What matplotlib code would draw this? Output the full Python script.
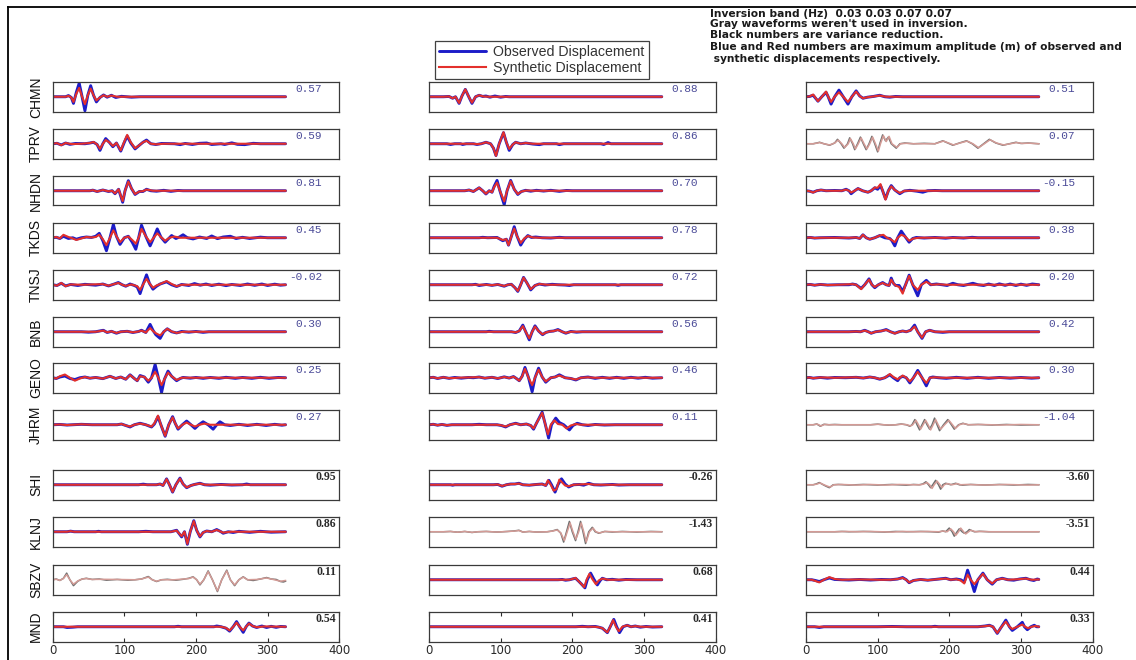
import matplotlib
matplotlib.use("Agg")
import matplotlib.pyplot as plt
from matplotlib.lines import Line2D
import matplotlib.transforms as mtransforms

# ---------------------------------------------------------------- data
STATIONS = ["CHMN", "TPRV", "NHDN", "TKDS", "TNSJ", "BNB", "GENO", "JHRM",
            "SHI", "KLNJ", "SBZV", "MND"]

# numbers printed in each panel (rows 1-8 blue mono, rows 9-12 bold black)
LEFT_VALUES = ["0.57", "0.59", "0.81", "0.45", "-0.02", "0.30", "0.25", "0.27",
               "0.95", "0.86", "0.11", "0.54"]
MID_VALUES = ["0.88", "0.86", "0.70", "0.78", "0.72", "0.56", "0.46", "0.11",
              "-0.26", "-1.43", "0.68", "0.41"]
RIGHT_VALUES = ["0.51", "0.07", "-0.15", "0.38", "0.20", "0.42", "0.30", "-1.04",
                "-3.60", "-3.51", "0.44", "0.33"]

# (column, row) of waveforms not used in the inversion (drawn in gray)
GRAY_PANELS = {(0, 10), (1, 9), (2, 1), (2, 7), (2, 8), (2, 9)}

X_TICKS = [0, 100, 200, 300, 400]

# waveform knots (time [s], normalised displacement)
LEFT_OBS = [
    [(0,0),(18,0),(22,0.08),(26,-0.05),(29,-0.45),(33,0.3),(37,0.92),(41,0.0),(45,-0.95),(49,0.1),(53,0.75),(57,0.1),(61,-0.35),(66,-0.05),(71,0.12),(76,-0.03),(82,0.1),(88,-0.05),(96,0.03),(110,-0.03),(122,0),(325,0)],
    [(0,0),(6,0.03),(12,-0.08),(18,0.05),(24,-0.04),(32,0.02),(45,0.0),(52,0.05),(57,0.1),(62,-0.05),(66,-0.45),(70,0.0),(74,0.35),(79,0.1),(84,-0.2),(89,0.05),(95,-0.5),(100,0.1),(104,0.52),(109,0.05),(115,-0.35),(121,-0.1),(126,0.1),(131,0.25),(137,0.0),(144,-0.05),(152,0.02),(170,0),(178,-0.06),(185,0.02),(195,-0.05),(205,0.03),(215,0.05),(222,-0.05),(235,0.0),(240,-0.05),(250,0.06),(258,-0.04),(268,-0.06),(280,0.03),(290,0),(325,0)],
    [(0,0),(52,0),(56,0.04),(62,-0.05),(70,0.05),(78,-0.05),(83,0.0),(87,-0.2),(92,0.1),(97.7,-0.78),(101,0.0),(105.6,0.68),(110,0.15),(115,-0.25),(121,-0.05),(126,-0.05),(131,0.1),(137,0),(145,-0.03),(155,0.03),(165,-0.04),(175,0.02),(182,0),(325,0)],
    [(0,0),(5,0.03),(10,-0.05),(15,0.1),(22,-0.05),(28,0.0),(33,-0.1),(40,0.0),(47,0.05),(54,0.02),(60,0.1),(65,0.3),(70,-0.2),(75,-0.88),(80,0.0),(84.7,0.9),(89,0.1),(94,-0.45),(100,0.0),(105.6,0.1),(111,-0.3),(116,-0.78),(120,0.0),(124,0.85),(130,0.1),(136,-0.55),(141,0.0),(146,0.6),(151,0.05),(157,-0.3),(162,-0.05),(166,0.15),(172,-0.05),(177,0.05),(182,0.2),(188,0),(196,-0.08),(205,0.05),(215,-0.05),(222,0.12),(230,-0.06),(238,0.05),(248,0.1),(256,-0.05),(265,0.03),(275,-0.05),(290,0.04),(300,0),(325,0)],
    [(0,0),(6,-0.05),(12,0.1),(18,-0.08),(25,0.02),(35,-0.05),(45,0.03),(60,-0.03),(70,0.05),(78,-0.08),(86,0.05),(91.6,0.15),(97,0.0),(102,-0.1),(108,0.05),(114,-0.05),(118,-0.15),(122,-0.6),(126,0.0),(131,0.67),(135,0.1),(140,-0.3),(145,-0.1),(150,0.05),(159,0.2),(166,0.0),(173,-0.12),(180,0.02),(190,-0.05),(198,0.08),(206,-0.03),(214,0.05),(222,-0.05),(232,0.04),(242,-0.06),(250,0.02),(262,-0.05),(272,0.05),(282,-0.04),(292,0.05),(300,-0.05),(310,0.04),(318,-0.03),(325,0)],
    [(0,0),(40,0),(50,-0.03),(60,0),(70.7,0.1),(76,-0.05),(82,0.03),(89,-0.1),(95,0.0),(104,0.03),(112,-0.05),(120,0.02),(124,0.1),(130,-0.05),(136,0.5),(140,0.1),(144,-0.2),(150,-0.45),(155,0.0),(160,0.2),(166,0.0),(173,-0.08),(180,0.02),(190,-0.03),(200,0.02),(210,-0.04),(218,0),(325,0)],
    [(0,0),(5,-0.05),(10,0.05),(17,0.12),(24,-0.05),(31,-0.12),(38,0.0),(45,0.05),(52,-0.03),(60,0.02),(70,-0.06),(80,0.1),(88,-0.05),(95,0.05),(102,-0.1),(108,0.2),(114,-0.05),(118,-0.2),(122,0.15),(128,0.05),(133.5,-0.3),(138,0.0),(143,0.9),(147,0.1),(152,-1.0),(156,-0.1),(161,0.45),(166,0.1),(173,-0.2),(178,-0.05),(182,0.02),(192,-0.03),(200,0.02),(210,-0.04),(220,0.02),(232,-0.04),(242,0.03),(255,-0.04),(265,0.02),(278,-0.04),(290,0.03),(302,-0.04),(315,0.02),(325,0)],
    [(0,0),(10,0.02),(20,-0.02),(40,0.03),(55,0),(90,0),(96,0.05),(102,-0.05),(108,-0.15),(114,0.0),(122,0.1),(130,0.0),(138,-0.15),(142,0.05),(147,0.55),(151,0.0),(157,-0.78),(162,0.0),(167.4,0.55),(171,0.1),(175,-0.3),(181,0.0),(187,0.25),(193,0.0),(198.6,-0.25),(204,0.0),(210,0.2),(217,0.0),(224,-0.3),(229,0.0),(233.5,0.2),(240,0.0),(248,-0.05),(260,0.03),(272,-0.05),(285,0.03),(298,-0.05),(310,0.03),(320,-0.03),(325,0)],
    [(0,0),(120,0),(126.5,0.04),(132,0),(145,0),(150,0.05),(154,-0.05),(159,0.4),(163,0.0),(167.4,-0.5),(172,0.0),(177.7,0.45),(182,0.05),(187,-0.2),(193,-0.05),(198,0.02),(205.6,0.1),(212,0),(220,-0.03),(235,0.02),(250,-0.02),(265,0),(270.7,0.05),(276,0),(325,0)],
    [(0,0),(20,0),(25,0.04),(30,0),(60,0),(64,0.03),(68,0),(120,0),(130,0.03),(140,0),(165,0),(173,0.1),(180,-0.35),(184,0.0),(188,-0.85),(192,0.0),(197,0.75),(201,0.1),(205.6,-0.35),(210,-0.05),(215,0.05),(222,0.0),(229,0.15),(235,0),(238,-0.1),(245,0.0),(252,-0.05),(260,0.03),(275,-0.04),(290,0.03),(305,-0.03),(325,0)],
    [(0,0),(5,0.05),(10,-0.05),(15,0.1),(19.5,0.45),(24,0.0),(29,-0.4),(35,-0.1),(41,0.05),(47,0.1),(55,0.02),(65,0.05),(75,-0.03),(90,0.02),(105,-0.03),(115,0.0),(124,0.05),(133.5,0.22),(139,0.0),(145,-0.12),(152,0.0),(160,0.03),(172,-0.03),(182,0.03),(190,0.1),(196,0.2),(201,0.0),(205.6,-0.35),(211,0.0),(217,0.6),(223,0.0),(230,-0.8),(236,0.0),(243,0.65),(248,0.0),(254,-0.4),(260,0.0),(266,0.2),(272,0.0),(280,-0.05),(290,0.05),(298.6,0.15),(305,0.05),(312,0.02),(318,-0.12),(322,-0.15),(325,-0.1)],
    [(0,0),(15,0),(20,-0.05),(28,-0.03),(35,0),(170,0),(175,0.03),(180,0),(225,0),(229,0.05),(235,0.0),(242,-0.1),(247,-0.3),(252,0.0),(256.7,0.35),(261,0.0),(266,-0.38),(270,0.0),(274,0.25),(279,0.05),(284.7,-0.05),(292,0.05),(298.6,-0.05),(305,0.03),(312,-0.04),(318,0.02),(325,0)],
]
LEFT_SYN = [
    [(0,0),(18,0),(22,0.06),(26,-0.05),(29,-0.35),(33,0.2),(37,0.6),(41,0.0),(45,-0.5),(49,0.1),(53,0.55),(57,0.1),(61,-0.25),(66,-0.05),(71,0.1),(76,0),(82,0.08),(90,0),(325,0)],
    [(0,0),(6,0.04),(12,-0.1),(18,0.05),(26,-0.02),(40,0),(52,0.05),(57,0.12),(62,-0.05),(66,-0.35),(70,0.0),(74,0.25),(79,0.1),(84,-0.15),(89,0.05),(95,-0.45),(100,0.15),(104,0.6),(109,0.1),(115,-0.3),(121,-0.1),(126,0.1),(131,0.2),(137,0.0),(145,-0.04),(155,0),(325,0)],
    [(0,0),(52,0),(56,0.04),(62,-0.05),(70,0.05),(78,-0.04),(83,0.0),(87,-0.18),(92,0.1),(97.7,-0.7),(101,0.0),(105.6,0.62),(110,0.15),(115,-0.22),(121,-0.05),(126,-0.03),(131,0.08),(140,0),(325,0)],
    [(0,0),(5,0.05),(10,-0.05),(15,0.2),(22,0.05),(28,-0.05),(33,-0.15),(40,-0.05),(47,0.05),(54,0.02),(60,0.05),(65,0.2),(70,-0.1),(75,-0.5),(80,0.0),(84.7,0.5),(89,0.1),(94,-0.3),(100,0.0),(105.6,0.08),(111,-0.15),(116,-0.4),(120,0.0),(124,0.6),(130,0.1),(136,-0.3),(141,0.0),(146,0.3),(151,0.05),(157,-0.2),(163,0),(170,0.08),(178,0),(325,0)],
    [(0,0),(6,-0.06),(12,0.12),(18,-0.1),(25,0.02),(40,0),(70,0.04),(78,-0.06),(86,0.05),(91.6,0.12),(97,0.0),(102,-0.08),(110,0.02),(118,-0.1),(122,-0.35),(126,0.0),(131,0.4),(135,0.1),(140,-0.2),(145,-0.05),(150,0.05),(159,0.25),(166,0.05),(173,-0.1),(180,0),(325,0)],
    [(0,0),(50,0),(60,0),(70.7,0.08),(76,-0.04),(82,0.03),(89,-0.08),(95,0.0),(104,0.03),(112,-0.04),(120,0.02),(124,0.08),(130,-0.05),(136,0.25),(140,0.05),(144,-0.1),(150,-0.25),(155,0.0),(160,0.2),(166,0.02),(173,-0.08),(182,0),(325,0)],
    [(0,0),(5,-0.05),(10,0.1),(17,0.22),(24,0.0),(31,-0.2),(38,-0.05),(45,0.05),(52,-0.03),(60,0.02),(70,-0.06),(80,0.1),(88,-0.05),(95,0.05),(102,-0.1),(108,0.18),(114,-0.05),(118,-0.2),(122,0.1),(128,0.05),(133.5,-0.2),(138,0.0),(143,0.4),(147,0.05),(152,-0.5),(156,-0.1),(161,0.35),(166,0.1),(173,-0.15),(180,0),(325,0)],
    [(0,0),(10,0.02),(20,-0.02),(40,0.03),(55,0),(90,0),(96,0.05),(102,-0.05),(108,-0.12),(114,0.0),(122,0.08),(130,0.0),(138,-0.12),(142,0.1),(147,0.62),(151,0.0),(157,-0.75),(162,0.0),(167.4,0.5),(171,0.1),(175,-0.25),(181,0.0),(187,0.15),(193,0.0),(198.6,-0.12),(205,0.0),(212,0.08),(220,0),(325,0)],
    [(0,0),(145,0),(150,0.05),(154,-0.05),(159,0.38),(163,0.0),(167.4,-0.48),(172,0.0),(177.7,0.42),(182,0.05),(187,-0.18),(193,-0.05),(198,0.02),(205.6,0.08),(213,0),(325,0)],
    [(0,0),(20,0),(25,0.04),(30,0),(165,0),(173,0.08),(180,-0.3),(184,0.0),(188,-0.82),(192,0.0),(197,0.72),(201,0.1),(205.6,-0.32),(210,-0.05),(215,0.05),(222,0.0),(229,0.12),(235,0),(238,-0.06),(248,0),(325,0)],
    [(0,0),(5,0.03),(10,-0.04),(15,0.08),(19.5,0.35),(24,0.0),(29,-0.3),(35,-0.08),(41,0.05),(47,0.08),(55,0.02),(70,0.03),(90,0.02),(115,0.0),(124,0.05),(133.5,0.18),(139,0.0),(145,-0.1),(152,0.0),(170,0),(190,0.08),(196,0.18),(201,0.0),(205.6,-0.3),(211,0.0),(217,0.55),(223,0.0),(230,-0.75),(236,0.0),(243,0.6),(248,0.0),(254,-0.35),(260,0.0),(266,0.18),(272,0.0),(285,0.02),(298.6,0.12),(305,0.05),(318,-0.1),(325,-0.05)],
    [(0,0),(235,0),(242,-0.08),(247,-0.25),(252,0.0),(256.7,0.28),(261,0.0),(266,-0.25),(270,0.0),(274,0.22),(279,0.05),(285,-0.03),(295,0.02),(325,0)],
]

MID_OBS = [
    [(0,0),(20,0),(28,0.02),(33,-0.1),(37,0.0),(42,-0.45),(46,0.05),(50.7,0.5),(55,0.05),(60,-0.45),(65,0.0),(70,0.1),(75,0.02),(79.5,0.05),(85,-0.03),(92,0.05),(100,-0.03),(107,0.02),(112,0),(325,0)],
    [(0,0),(25,0),(30,-0.05),(36,0),(44,0),(47,-0.05),(52,0),(62,0),(67,-0.05),(73,0.0),(79.5,0.1),(86,0.0),(90,-0.3),(93.5,-0.8),(98,0.0),(104,0.75),(108,0.1),(112,-0.45),(117,-0.05),(121,0.1),(128,0.0),(135,0.05),(145,-0.02),(154,-0.06),(160,0),(178,0),(182,-0.06),(188,0),(240,0),(244,-0.05),(250,0.08),(254,0),(325,0)],
    [(0,0),(50,0),(56,0.05),(62,-0.05),(70,0.2),(75,0.0),(79.5,-0.22),(84,0.0),(88,-0.1),(91,0.3),(95,0.7),(99,0.0),(105,-0.95),(109,0.0),(114,0.7),(119,0.1),(124,-0.25),(129,-0.05),(135,0.03),(142,-0.03),(150,0.03),(160,-0.02),(170,0.03),(182,-0.04),(192,0.02),(200,0),(325,0)],
    [(0,0),(70,0),(75,0.03),(82,0),(95,0.02),(103,-0.2),(108,-0.1),(111,-0.5),(115,0.1),(119,0.75),(123,0.1),(128,-0.5),(133,-0.1),(138,0.15),(143,0.02),(149,0.05),(158,0),(170,-0.02),(182,0.03),(190,0),(325,0)],
    [(0,0),(60,0),(65,0.03),(70,-0.05),(80,0.02),(88,-0.04),(96,0.02),(105,-0.1),(110,0.0),(115,0.03),(120,-0.2),(124,-0.45),(128,0.0),(132,0.5),(137,0.1),(142,-0.35),(148,-0.05),(154,0.05),(162,-0.02),(172,0.03),(180,0),(190,-0.02),(196,-0.05),(202,0),(260,0),(264,-0.04),(268,0),(325,0)],
    [(0,0),(80,0),(84,0.03),(90,0),(115,0),(121,-0.05),(126,0.05),(131,0.45),(135,0.0),(140,-0.55),(144,0.0),(148,0.4),(153,0.05),(158.6,-0.2),(163,-0.05),(168,0.02),(174,0.05),(180,0.15),(186,0.0),(191,-0.1),(198,0.02),(206,-0.03),(214,0),(325,0)],
    [(0,0),(6,0.03),(12,-0.05),(20,0.03),(28,-0.04),(36,0.02),(45,-0.03),(55,0.02),(62,0.0),(70,0.05),(78,-0.03),(88,0.03),(96,-0.05),(105,0.06),(112,-0.02),(118,0.08),(122,-0.05),(126,-0.2),(130,0.1),(134,0.7),(139,0.0),(144,-0.95),(148,0.0),(153,0.65),(158,0.05),(163,-0.3),(170,0.0),(176,0.05),(182,0.2),(190,0.0),(198,-0.05),(205,-0.15),(212,0.0),(222,0.05),(232,-0.04),(242,0.03),(252,-0.04),(262,0.03),(272,-0.04),(282,0.03),(292,-0.03),(302,0.03),(312,-0.03),(325,0)],
    [(0,0),(6,0.03),(12,-0.03),(18,0.02),(25,-0.04),(32,0),(60,0),(70,0.03),(80,0),(95,0),(101,-0.05),(107,-0.15),(113,0.0),(121,0.1),(128,0.0),(136,0.05),(142,-0.05),(146,-0.3),(150,0.1),(158,0.85),(162,0.1),(167,-0.9),(171,0.0),(177,0.45),(182,0.15),(188,0.0),(196,-0.35),(201,-0.05),(207,0.1),(214,0.0),(222,-0.05),(232,0.02),(245,-0.02),(260,0),(325,0)],
    [(0,0),(30,0),(33,-0.03),(36,0),(90,0),(96,0.02),(102,-0.1),(108,0.0),(114,0.05),(120,0.05),(125.6,0.1),(131,0.0),(140,-0.03),(150,0.02),(158,0.05),(163,-0.05),(167.4,0.3),(171,0.0),(176,-0.5),(180,0.0),(185,0.4),(190,0.05),(195,-0.15),(202,0.0),(210,0.02),(216,-0.03),(223,0.1),(230,0.0),(240,-0.02),(256,0.02),(265,-0.02),(280,0),(325,0)],
    [(0,0),(20,0),(30,0.02),(40,-0.03),(50,0.02),(60,-0.05),(68,0.0),(80,0.02),(95,-0.02),(110,0.02),(118,0.05),(125.6,0.1),(131,-0.02),(140,0.02),(150,-0.02),(165,0.0),(172,0.05),(179,0.15),(184,-0.1),(188,-0.7),(192,0.0),(196,0.7),(200,0.0),(204.6,-0.6),(208,0.0),(211.6,0.7),(215,0.0),(218.6,-0.8),(223,0.0),(228,0.3),(232,0.0),(237,-0.1),(245,0.02),(256,-0.02),(270,0.02),(290,-0.02),(310,0.02),(325,0)],
    [(0,0),(180,0),(186,0.02),(190.7,-0.03),(196,0.0),(200,0.05),(204.6,0.1),(209,-0.1),(213,-0.3),(217.7,-0.55),(221,0.0),(225.6,0.45),(230,0.05),(235,-0.35),(239,-0.05),(242,0.1),(248,0.0),(256,0.03),(265,-0.03),(275,0.02),(290,0),(325,0)],
    [(0,0),(205,0),(214,0.03),(222,0),(232,0.02),(237,-0.03),(242,-0.1),(249,-0.4),(253,0.0),(258,0.5),(262,0.0),(266,-0.4),(271,0.0),(276.7,0.1),(282,0.0),(288,0.05),(295,-0.03),(303,0.02),(312,-0.02),(325,0)],
]
MID_SYN = [
    [(0,0),(20,0),(28,0.02),(33,-0.1),(37,0.0),(42,-0.42),(46,0.05),(50.7,0.5),(55,0.05),(60,-0.4),(65,0.0),(70,0.1),(76,0.02),(85,0),(325,0)],
    [(0,0),(62,0),(67,-0.03),(73,0.0),(79.5,0.1),(86,0.0),(90,-0.3),(93.5,-0.82),(98,0.0),(104,0.78),(108,0.1),(112,-0.35),(117,-0.05),(121,0.1),(128,0.0),(135,0.05),(145,0),(325,0)],
    [(0,0),(50,0),(56,0.05),(62,-0.05),(70,0.2),(75,0.0),(79.5,-0.2),(84,0.0),(88,-0.1),(91,0.25),(95,0.55),(99,0.0),(105,-0.72),(109,0.0),(114,0.65),(119,0.1),(124,-0.22),(129,-0.05),(136,0.02),(145,0),(325,0)],
    [(0,0),(95,0),(103,-0.15),(108,-0.1),(111,-0.5),(115,0.1),(119,0.62),(123,0.1),(128,-0.35),(133,-0.05),(138,0.12),(145,0.02),(155,0),(325,0)],
    [(0,0),(80,0),(88,-0.03),(96,0.02),(105,-0.08),(110,0.0),(115,0.03),(120,-0.2),(124,-0.42),(128,0.0),(132,0.48),(137,0.1),(142,-0.3),(148,-0.05),(154,0.05),(165,0),(325,0)],
    [(0,0),(115,0),(121,-0.04),(126,0.05),(131,0.38),(135,0.0),(140,-0.45),(144,0.0),(148,0.35),(153,0.05),(158.6,-0.18),(163,-0.05),(168,0.02),(174,0.05),(180,0.12),(186,0.0),(191,-0.08),(198,0),(325,0)],
    [(0,0),(6,0.03),(12,-0.04),(20,0.03),(28,-0.03),(40,0),(70,0.04),(78,-0.02),(88,0.03),(96,-0.04),(105,0.05),(112,-0.02),(118,0.07),(122,-0.05),(126,-0.2),(130,0.1),(134,0.6),(139,0.0),(144,-0.5),(148,0.0),(153,0.55),(158,0.05),(163,-0.25),(170,0.0),(176,0.05),(182,0.15),(190,0.0),(198,-0.05),(205,-0.12),(212,0.0),(222,0.03),(230,0),(325,0)],
    [(0,0),(6,0.03),(12,-0.03),(18,0.02),(25,-0.03),(32,0),(95,0),(101,-0.04),(107,-0.12),(113,0.0),(121,0.08),(128,0.0),(136,0.05),(142,-0.05),(146,-0.25),(150,0.1),(158,0.8),(162,0.1),(166,-0.65),(170,0.0),(175,0.3),(180,0.05),(186,0.0),(192,-0.25),(198,-0.05),(205,0.05),(212,0),(325,0)],
    [(0,0),(90,0),(96,0.02),(102,-0.08),(108,0.0),(114,0.04),(120,0.05),(125.6,0.08),(131,0.0),(140,-0.02),(150,0.02),(158,0.04),(163,-0.05),(166,0.3),(170,0.0),(174,-0.4),(178,-0.3),(182,0.35),(186,0.15),(190,-0.05),(195,-0.1),(202,0.0),(210,0.02),(223,0.05),(232,0),(325,0)],
    [(0,0),(20,0),(30,0.02),(40,-0.03),(50,0.02),(60,-0.04),(68,0.0),(80,0.02),(95,-0.02),(110,0.02),(118,0.04),(125.6,0.08),(131,-0.02),(140,0.02),(150,-0.02),(165,0.0),(172,0.04),(179,0.12),(184,-0.08),(189,-0.6),(193,0.0),(197,0.6),(201,0.0),(205,-0.5),(209,0.0),(212.5,0.6),(216,0.0),(219.5,-0.7),(224,0.0),(229,0.25),(233,0.0),(238,-0.08),(246,0.02),(258,0),(325,0)],
    [(0,0),(190,0),(196,0.0),(200,0.05),(204.6,0.12),(209,-0.1),(213,-0.3),(216.7,-0.5),(220,0.0),(224,0.4),(228,0.05),(233,-0.3),(237,-0.05),(242,0.08),(250,0.0),(325,0)],
    [(0,0),(232,0),(237,-0.03),(242,-0.1),(249,-0.38),(253,0.0),(257,0.45),(261,0.0),(265,-0.3),(270,0.0),(276.7,0.1),(282,0.0),(288,0.04),(296,0),(325,0)],
]

RIGHT_OBS = [
    [(0,0),(5,0.02),(10,0.1),(16.7,-0.3),(22,0.0),(28,0.3),(31,0.0),(35,-0.5),(40,0.0),(46,0.45),(52,0.0),(58.6,-0.5),(64,0.0),(70,0.4),(75,0.05),(79.5,-0.1),(86,-0.03),(94,0.02),(103,0.1),(110,0.0),(117,-0.03),(125,0.02),(135,0),(325,0)],
    [(0,0),(10,0),(15,0.05),(19,0.1),(25,0.0),(33,-0.1),(40,0.05),(44,0.3),(49,0.0),(53,-0.3),(58,0.0),(61,0.4),(65,0.0),(68,-0.4),(72,0.0),(76,0.45),(80,0.0),(84,-0.4),(88,0.0),(92,0.5),(96,0.0),(100,-0.55),(103,0.0),(107,0.6),(111,0.2),(115,0.45),(119,0.0),(126,-0.3),(131,0.0),(138,0.05),(150,0.0),(165,0.03),(180,0.0),(191,0.2),(198,0.05),(205,-0.1),(214,0.05),(224,0.2),(232,0.0),(240,-0.3),(248,0.0),(256,0.3),(265,0.05),(275,-0.1),(284,0.0),(293,0.1),(300,0.02),(310,0.05),(325,0)],
    [(0,0),(5,-0.03),(10,-0.1),(15,0.0),(21,0.05),(28,0.0),(40,0.02),(50,0.0),(56,0.1),(60,0.0),(63,-0.2),(68,0.0),(72.6,0.15),(79,0.0),(86.5,-0.1),(91,0.0),(96,0.2),(100,0.1),(104,0.35),(107,0.0),(111,-0.55),(115,0.0),(119,0.35),(124,0.05),(131,-0.2),(137,-0.02),(145,0.03),(155,-0.03),(163,-0.1),(170,0.0),(180,0.02),(190,0),(325,0)],
    [(0,0),(6,0.02),(12,-0.02),(20,0.0),(40,0.02),(60,-0.02),(70,0.02),(75,-0.05),(79.5,0.2),(84,0.0),(89,-0.1),(96,0.0),(103,0.15),(110,0.0),(117,-0.05),(120,-0.2),(124,-0.55),(128,0.0),(133,0.45),(138,0.1),(144,-0.3),(149,-0.05),(154,0.02),(165,-0.02),(180,0.02),(195,-0.03),(205,0.02),(220,-0.02),(232,0.03),(240,0),(325,0)],
    [(0,0),(6,0.02),(12,-0.03),(20,0.02),(30,-0.02),(45,0.0),(60,0.0),(65,0.05),(70,0.0),(77,-0.25),(82,0.0),(88,0.4),(92,0.0),(96,-0.2),(101,0.0),(107,0.15),(112,0.0),(116,-0.05),(119,0.45),(122,0.1),(125,-0.05),(130,-0.05),(135,-0.45),(139,0.0),(144,0.65),(149,0.0),(156,-0.75),(161,0.0),(168,0.3),(174,0.0),(182,0.05),(190,0.0),(197,-0.05),(205,0.1),(212,0.0),(220,-0.05),(233,0.1),(240,0.0),(248,-0.05),(255,0.05),(263,-0.05),(270,0.06),(278,-0.04),(285,0.05),(293,-0.05),(300,0.04),(308,-0.04),(316,0.05),(325,0)],
    [(0,0),(60,0),(70,0.02),(76,0.0),(82,0.1),(87,0.0),(91,-0.1),(97,0.0),(105,0.05),(112,0.15),(118,0.0),(124,-0.1),(130,0.0),(135,0.05),(140,0.0),(146,0.1),(151.6,0.45),(156,0.0),(162,-0.45),(167,0.0),(172.6,0.1),(180,0.0),(191,-0.04),(200,0),(325,0)],
    [(0,0),(5,0.02),(10,-0.03),(20,0.02),(30,-0.03),(40,0.02),(55,0.0),(70,0.03),(80,-0.02),(89,0.05),(96,0.0),(103,-0.1),(110,0.0),(117,0.2),(122,0.0),(128,-0.2),(131,0.0),(135,0.1),(140,0.0),(145,-0.35),(150,0.0),(156,0.5),(162,0.0),(168,-0.55),(173,0.0),(177,0.05),(185,0.0),(196,-0.04),(210,0.03),(225,-0.04),(240,0.03),(255,-0.04),(270,0.02),(285,-0.03),(300,0.02),(315,-0.03),(325,0)],
    [(0,0),(10,0),(15,0.05),(20,-0.1),(25,0.03),(32,0),(40,0.02),(50,0),(90,0),(100,0.04),(108,0.0),(116,-0.03),(125,0.0),(133,0.05),(140,0.0),(145,-0.1),(148,0.0),(152,0.35),(155,0.0),(158.6,-0.35),(162,0.0),(165.6,0.35),(169,0.0),(172.6,-0.3),(176,0.0),(179.5,0.45),(183,0.0),(186.5,-0.4),(192,0.0),(198,0.35),(203,0.0),(207,-0.3),(213,0.0),(219,0.1),(226,0.0),(240,0.02),(260,-0.02),(280,0.02),(300,-0.02),(325,0)],
    [(0,0),(10,0),(14,0.05),(18.6,0.15),(24,0.0),(28,-0.1),(32.6,-0.2),(38,0.0),(45,0.02),(60,-0.02),(80,0.02),(100,-0.02),(120,0.02),(140,-0.03),(150,0.02),(158,0.0),(163,0.05),(167.4,0.2),(171,0.0),(174,-0.2),(177,0.0),(181,0.3),(185,0.0),(188,-0.3),(191,0.0),(195,0.1),(202,0.0),(209,0.1),(214,0.0),(218.6,-0.03),(230,0.02),(250,-0.02),(270,0.02),(290,-0.02),(310,0.02),(325,0)],
    [(0,0),(40,0),(50,0.02),(60,0.0),(80,0.02),(95,0.0),(110,-0.02),(125,0.02),(140,0.0),(160,0.02),(175,0.0),(185,-0.03),(190.7,0.05),(195,0.0),(200,0.25),(204,0.0),(207,-0.3),(211,0.0),(214,0.2),(218,0.0),(221,-0.1),(225,0.0),(228,0.15),(235,0.0),(242,0.03),(255,0),(325,0)],
    [(0,0),(8,0.0),(13,-0.05),(18.6,-0.12),(25,0.0),(32.6,0.12),(40,0.02),(50,0.0),(60,-0.02),(75,0.02),(90,-0.02),(105,0.02),(118,0.0),(128,0.05),(135,0.15),(140,0.0),(144,-0.2),(150,-0.05),(160,0.02),(170,-0.03),(182,0.03),(195,0.1),(202,0.0),(210,0.05),(216,0.0),(221,-0.15),(225.6,0.65),(230,0.0),(235,-0.8),(240,0.0),(247,0.45),(253,0.0),(260,-0.3),(266,0.0),(274,0.1),(282,0.0),(290,-0.03),(298,0.05),(307,0.1),(313,0.0),(318,-0.05),(323,0.05),(325,0.02)],
    [(0,0),(12,0),(18.6,-0.05),(25,0.0),(35,0),(100,0),(120,0.02),(140,0),(175,0),(180,0.03),(185,0),(240,0),(250,0.05),(256,0.1),(261,0.0),(267,-0.45),(273,0.0),(279,0.45),(284,0.0),(288,-0.25),(295,0.0),(302,0.3),(305,0.0),(309,-0.2),(314,0.0),(318.6,0.1),(322,0.0),(325,0)],
]
RIGHT_SYN = [
    [(0,0),(5,0.02),(10,0.15),(16.7,-0.3),(22,0.0),(28,0.35),(31,0.0),(35,-0.35),(40,0.0),(46,0.3),(52,0.0),(58.6,-0.35),(64,0.0),(70,0.35),(75,0.05),(79.5,-0.1),(86,-0.03),(94,0.02),(103,0.08),(112,0),(325,0)],
    [(0,0),(10,0),(15,0.04),(19,0.08),(25,0.0),(33,-0.08),(40,0.05),(45,0.25),(50,0.0),(54,-0.25),(59,0.0),(62,0.35),(66,0.0),(69,-0.35),(73,0.0),(77,0.4),(81,0.0),(85,-0.35),(89,0.0),(93,0.45),(97,0.0),(101,-0.5),(104,0.0),(108,0.55),(112,0.15),(116,0.5),(120,0.0),(127,-0.25),(132,0.0),(140,0.03),(150,0.0),(180,0.0),(192,0.18),(199,0.05),(206,-0.08),(215,0.05),(225,0.18),(233,0.0),(241,-0.27),(249,0.0),(257,0.27),(266,0.05),(276,-0.08),(285,0.0),(294,0.08),(302,0.02),(311,0.04),(325,0)],
    [(0,0),(5,-0.03),(10,-0.12),(15,0.0),(21,0.05),(28,0.0),(50,0.0),(56,0.08),(60,0.0),(63,-0.12),(68,0.0),(72.6,0.15),(79,0.0),(86.5,-0.1),(91,0.0),(96,0.22),(100,0.2),(104,0.45),(107,0.0),(111,-0.6),(115,0.0),(119,0.3),(124,0.05),(131,-0.15),(138,0.0),(325,0)],
    [(0,0),(6,0.02),(12,-0.02),(20,0.0),(60,0.0),(70,0.02),(75,-0.05),(79.5,0.2),(84,0.0),(89,-0.1),(96,0.0),(103,0.15),(108,0.2),(113,0.0),(118,-0.1),(121,-0.2),(124,-0.3),(128,0.0),(133,0.2),(138,0.1),(144,-0.2),(150,-0.05),(158,0.0),(325,0)],
    [(0,0),(6,0.02),(12,-0.03),(20,0.02),(30,-0.02),(45,0.0),(65,0.04),(70,0.0),(77,-0.3),(82,0.0),(88,0.35),(92,0.0),(96,-0.15),(101,0.0),(107,0.12),(112,0.0),(116,-0.05),(119,0.35),(122,0.1),(125,-0.05),(130,-0.15),(135,-0.6),(139,0.0),(144,0.6),(149,0.0),(156,-0.35),(161,0.0),(168,0.2),(175,0.0),(185,0.03),(195,0.0),(325,0)],
    [(0,0),(60,0),(70,0.02),(76,0.0),(82,0.08),(87,0.0),(91,-0.1),(97,0.0),(105,0.05),(112,0.12),(118,0.0),(124,-0.12),(130,0.0),(135,0.05),(140,0.0),(146,0.1),(151.6,0.35),(156,0.0),(162,-0.4),(167,0.0),(172.6,0.1),(180,0.0),(190,0),(325,0)],
    [(0,0),(5,0.02),(10,-0.03),(20,0.02),(40,0.0),(70,0.03),(80,-0.02),(89,0.05),(96,0.0),(103,-0.08),(110,0.0),(117,0.25),(122,0.05),(128,-0.1),(131,0.0),(135,0.15),(140,0.0),(145,-0.25),(150,0.0),(156,0.4),(162,0.0),(168,-0.35),(173,0.0),(180,0.03),(190,0),(325,0)],
    [(0,0),(10,0),(16,0.04),(21,-0.08),(26,0.02),(32,0),(90,0),(101,0.03),(109,0.0),(117,-0.02),(126,0.0),(134,0.04),(141,0.0),(146,-0.08),(149,0.0),(153.5,0.3),(157,0.0),(160,-0.3),(163.5,0.0),(167,0.3),(170.5,0.0),(174,-0.35),(177.5,0.0),(181,0.35),(184.5,0.0),(188,-0.3),(193.5,0.0),(199.5,0.3),(204.5,0.0),(208.5,-0.25),(214,0.0),(220,0.08),(227,0.0),(245,0.02),(270,-0.02),(300,0.02),(325,0)],
    [(0,0),(10,0),(15,0.04),(19.6,0.12),(25,0.0),(29,-0.08),(33.6,-0.16),(39,0.0),(50,0.02),(70,-0.02),(90,0.02),(110,-0.02),(130,0.02),(150,0.0),(160,0.0),(164.5,0.05),(169,0.15),(172.5,0.0),(176,-0.25),(179,0.0),(183,0.25),(187,0.0),(190,-0.2),(193,0.0),(197,0.08),(204,0.0),(211,0.08),(216,0.0),(225,0.02),(250,-0.02),(280,0.02),(310,-0.02),(325,0)],
    [(0,0),(40,0),(55,0.02),(70,0.0),(90,0.02),(105,0.0),(120,-0.02),(135,0.02),(150,0.0),(170,0.02),(185,0.0),(192,0.05),(197,0.0),(202,0.2),(206,0.0),(209,-0.25),(213,0.0),(216,0.25),(220,0.0),(223,-0.15),(227,0.0),(230,0.1),(237,0.0),(245,0.02),(258,0),(325,0)],
    [(0,0),(8,0.0),(13,-0.08),(18.6,-0.18),(25,0.0),(32.6,0.18),(40,0.05),(50,0.0),(75,0.02),(100,0.0),(118,0.0),(128,0.05),(135,0.12),(140,0.0),(144,-0.18),(150,-0.05),(160,0.02),(170,-0.03),(182,0.03),(195,0.08),(202,0.0),(210,0.03),(216,-0.05),(221,-0.25),(225.6,0.35),(230,0.0),(235,-0.3),(240,0.0),(247,0.4),(253,0.0),(260,-0.25),(266,0.0),(274,0.08),(282,0.0),(295,0.03),(307,0.08),(315,0.0),(325,0.02)],
    [(0,0),(240,0),(250,0.04),(256,0.08),(261,0.0),(267,-0.42),(273,0.0),(279,0.35),(284,0.0),(288,-0.15),(295,0.0),(302,0.15),(306,0.0),(310,-0.1),(315,0.0),(320,0.05),(325,0)],
]

# ---------------------------------------------------------------- layout
W, H = 1136, 660
COL_LEFT_PX = [52.7, 429.0, 806.0]
COL_WIDTH_PX = 286.5
ROW_TOP_PX = [82, 129, 176, 223, 270, 317, 363, 410, 470, 517, 565, 612]
ROW_HEIGHT_PX = 29.5

OBS_COLOR = "#1c1cc8"
SYN_COLOR = "#e3302c"
GRAY_OBS = "#6e6e6e"
GRAY_SYN = "#d39b96"
VR_BLUE = "#4b4b98"

fig = plt.figure(figsize=(W / 100, H / 100), dpi=100)
fig.patch.set_facecolor("white")

columns = [
    (LEFT_OBS, LEFT_SYN, LEFT_VALUES),
    (MID_OBS, MID_SYN, MID_VALUES),
    (RIGHT_OBS, RIGHT_SYN, RIGHT_VALUES),
]

legend_handles = None
for c, (obs_list, syn_list, values) in enumerate(columns):
    for r in range(len(STATIONS)):
        left = COL_LEFT_PX[c] / W
        bottom = 1 - (ROW_TOP_PX[r] + ROW_HEIGHT_PX) / H
        ax = fig.add_axes([left, bottom, COL_WIDTH_PX / W, ROW_HEIGHT_PX / H])
        ax.set_xlim(0, 400)
        ax.set_ylim(-1.0, 1.0)

        t_obs, a_obs = zip(*obs_list[r])
        t_syn, a_syn = zip(*syn_list[r])
        if (c, r) in GRAY_PANELS:
            ax.plot(t_obs, a_obs, color=GRAY_OBS, lw=1.1, solid_joinstyle="round")
            ax.plot(t_syn, a_syn, color=GRAY_SYN, lw=1.1, solid_joinstyle="round")
        else:
            lo, = ax.plot(t_obs, a_obs, color=OBS_COLOR, lw=2.1,
                          solid_joinstyle="round", solid_capstyle="round")
            ls, = ax.plot(t_syn, a_syn, color=SYN_COLOR, lw=1.5,
                          solid_joinstyle="round")
            if legend_handles is None:
                legend_handles = (lo, ls)

        trans = mtransforms.blended_transform_factory(ax.transData, ax.transAxes)
        if r < 8:
            ax.text(376, 0.76, values[r], transform=trans, ha="right", va="center",
                    fontsize=8, family="Liberation Mono", color=VR_BLUE)
        else:
            ax.text(396, 0.77, values[r], transform=trans, ha="right", va="center",
                    fontsize=8.5, family="Liberation Serif", fontweight="bold",
                    color="#2a2a2a")

        for side in ax.spines.values():
            side.set_color("#3a3a3a")
            side.set_linewidth(0.9)
        ax.set_yticks([])
        if r == len(STATIONS) - 1:
            ax.set_xticks(X_TICKS)
            ax.tick_params(axis="x", direction="in", length=3, top=True,
                           labelsize=8.5, pad=2, colors="#2a2a2a")
        else:
            ax.set_xticks([])

        if c == 0:
            yc = 1 - (ROW_TOP_PX[r] + ROW_HEIGHT_PX / 2) / H
            fig.text(36 / W, yc, STATIONS[r], rotation=90, ha="center", va="center",
                     fontsize=10, family="Liberation Sans", color="#111111")

# legend
leg = fig.legend(legend_handles, ["Observed Displacement", "Synthetic Displacement"],
                 loc="upper left", bbox_to_anchor=(435 / W, 1 - 41 / H),
                 frameon=True, fancybox=False,
                 prop={"family": "Liberation Sans", "size": 10.2},
                 handlelength=3.3, handletextpad=0.5, labelspacing=0.1,
                 borderpad=0.3, borderaxespad=0)
leg.get_frame().set_edgecolor("#111111")
leg.get_frame().set_linewidth(0.9)
for txt in leg.get_texts():
    txt.set_color("#333333")

# annotation block, top right
NOTE_LINES = [
    ("Inversion band (Hz)  0.03 0.03 0.07 0.07", 14),
    ("Gray waveforms weren't used in inversion.", 24),
    ("Black numbers are variance reduction.", 35.5),
    ("Blue and Red numbers are maximum amplitude (m) of observed and", 47.5),
    (" synthetic displacements respectively.", 58.5),
]
for line, ypx in NOTE_LINES:
    fig.text(710 / W, 1 - ypx / H, line, ha="left", va="center", fontsize=7.7,
             family="DejaVu Sans", fontweight="bold", color="#1a1a1a")

# outer frame (top and left edges)
fig.add_artist(Line2D([8 / W, 1.0], [1 - 7 / H, 1 - 7 / H], color="black", lw=1.3))
fig.add_artist(Line2D([8 / W, 8 / W], [0.0, 1 - 7 / H], color="black", lw=1.3))

fig.savefig("out.png", dpi=100, facecolor="white")
